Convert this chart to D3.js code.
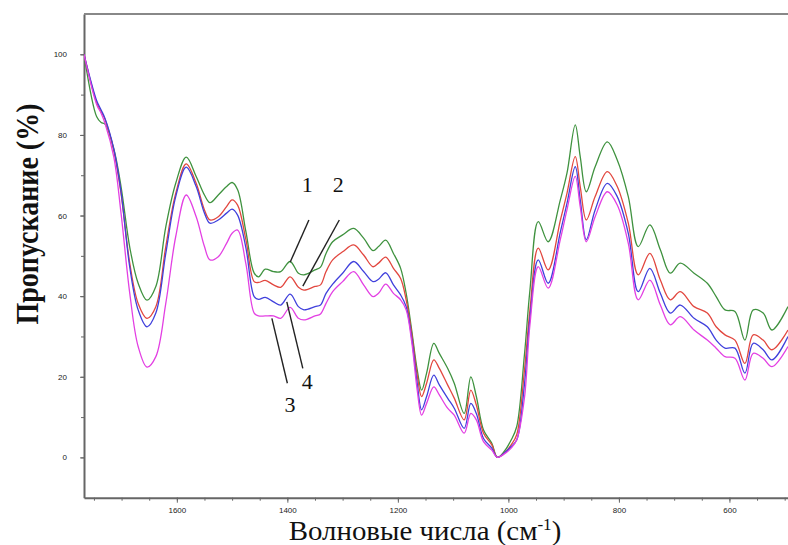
<!DOCTYPE html>
<html>
<head>
<meta charset="utf-8">
<script src="https://cdn.jsdelivr.net/npm/d3@7"></script>
<style>
  body { margin: 0; background: #fff; }
  svg { display: block; }
  .axis path, .axis line { stroke: #666; }
  .axis path { stroke-width: 2; }
  .axis text { font-family: "Liberation Sans Narrow", "Liberation Sans", sans-serif; font-size: 8px; fill: #222; }
  .line { fill: none; stroke-width: 1.3; stroke-linejoin: round; }
  .title { font-family: "Liberation Serif", "Times New Roman", serif; fill: #111; }
</style>
</head>
<body>
<svg id="chart" width="788" height="545"></svg>
<script>
// wavenumbers, cm-1
let wavenumbers = [1768, 1745, 1737, 1730, 1714, 1701, 1685, 1670, 1654, 1638, 1620, 1602, 1583, 1565, 1550, 1540,
  1525, 1510, 1500, 1490, 1475, 1460, 1452, 1440, 1425, 1412, 1395, 1380, 1370, 1350, 1340, 1330, 1318, 1300,
  1280, 1262, 1245, 1235, 1222, 1208, 1195, 1185, 1175, 1165, 1157, 1148, 1135, 1125, 1110, 1098, 1080, 1068,
  1058, 1045, 1030, 1020, 1008, 995, 985, 971, 961, 946, 928, 906, 894, 879, 870, 859, 843, 821, 803, 783,
  765, 744, 725, 707, 689, 664, 640, 624, 608, 590, 572, 557, 539, 523, 494]

// transmittance, %
let series1 = [100, 84.5, 83.1, 82.7, 76.5, 67.2, 52, 43.2, 39.0, 42.4, 57.2, 68, 74.5, 69.7, 65.1, 63.2,
  65.1, 67.2, 68.2, 66.4, 56, 45.7, 44.8, 46.7, 46.1, 46.1, 48.6, 45.7, 45.3, 46.5, 47.2, 50.6, 53.5, 55.2,
  56.8, 54.4, 51.3, 52.3, 53.9, 50.6, 46.9, 40.7, 31.6, 21.7, 16.7, 20.9, 28.3, 25.8, 22.1, 18.4, 10.9, 20.0,
  15.1, 6.8, 3.5, 0, 1.4, 4.3, 7.6, 25.4, 41.5, 58.5, 53.5, 63.9, 70.5, 82.5, 74.6, 65.9, 72.1, 78.3, 73.8, 64.7,
  52.3, 57.7, 51.5, 45.7, 48.2, 45.7, 43.2, 39.9, 36.6, 36.2, 29.1, 36.6, 35.8, 31.6, 37.4]
let series2 = [100, 88, 85.8, 83.9, 76, 65.5, 48, 38.2, 34.5, 37.4, 52.3, 65.5, 72.8, 68, 61.4, 58.9,
  59.7, 62.2, 63.9, 62.6, 54, 43.6, 43.4, 43.9, 42.8, 42.2, 44.8, 42.2, 41.5, 42.4, 42.8, 46.1, 49, 51,
  52.7, 50.2, 47.3, 48.2, 49.7, 46.9, 44.4, 39.1, 30.8, 20.4, 15.1, 18.4, 24.2, 22.1, 18, 14.7, 9.3, 16.7,
  13, 6.0, 3.1, 0, 1.0, 3.1, 5.6, 21.5, 36.6, 51.9, 46.5, 58.8, 65.5, 74.6, 67.2, 58.9, 64.7, 70.9, 67.2, 58.1,
  45.3, 50.6, 44, 39.1, 41.1, 37.4, 35.8, 32.4, 30.4, 29.1, 23.3, 30.4, 29.1, 26.7, 31.6]
let series3 = [100, 87.5, 85.4, 82.9, 74.5, 60.6, 40.5, 27.5, 22.4, 25, 38.2, 54.8, 65.1, 59.7, 52.3, 49.0,
  49.8, 53.1, 55.6, 56.4, 48, 35.8, 35.1, 35.1, 35.1, 34.5, 37.2, 34.5, 34.1, 35.1, 35.6, 38.2, 41.1, 43.6,
  46.1, 42.8, 39.9, 40.7, 43, 40.7, 39.1, 36.6, 28.7, 16.7, 10.5, 13.4, 17.5, 15.5, 12.2, 10.5, 6.0, 10.9,
  9.3, 3.9, 1.8, 0, 0.8, 2.3, 4.3, 14.7, 32.9, 47.3, 42, 54.1, 61.4, 69.7, 62.2, 53.5, 59.7, 65.9, 62.6, 53.1,
  39.1, 44, 37.8, 32.9, 34.9, 31.6, 29.1, 27.1, 25, 24.6, 19.2, 25.8, 24.6, 22.5, 27.5]
let series4 = [100, 88.5, 86.2, 84.1, 76.5, 65.9, 47, 36.6, 32.4, 35.8, 50.6, 64.7, 72.0, 67.2, 60.6, 58.1,
  58.9, 60.6, 61.6, 60.1, 52, 39.9, 39.2, 39.7, 38.6, 37.8, 40.5, 37.4, 36.6, 37.4, 37.8, 40.7, 43, 45.7,
  48.6, 46.1, 43.6, 44.2, 45.8, 42.8, 40.3, 37.4, 29.6, 18.4, 11.8, 15.1, 20.4, 18, 14.7, 12.2, 7.2, 13.4,
  10.9, 4.7, 2.3, 0, 1.0, 2.7, 4.3, 18, 34.6, 49, 43.2, 55.9, 63, 72.1, 63.9, 54, 61.4, 68, 64.7, 55.6,
  41.1, 46.9, 40.7, 35.8, 37.8, 34.5, 32.4, 29.1, 27.1, 27.1, 20.9, 28.3, 26.7, 24.2, 30]

let seriesNames = ["1", "2", "3", "4"]
let seriesColors = ["#3f923f", "#e2473f", "#e340e3", "#4040dc"]

// labels 1-4 with leader lines, in data units
let callouts = [
  {name: "1", lx: 1364, ly: 65.9, x1: 1361, y1: 58.9, x2: 1395, y2: 48.4},
  {name: "2", lx: 1308, ly: 65.9, x1: 1306, y1: 58.9, x2: 1372, y2: 42.5},
  {name: "3", lx: 1395, ly: 11.3, x1: 1400, y1: 18.4, x2: 1428, y2: 34.5},
  {name: "4", lx: 1364, ly: 17.0, x1: 1372, y1: 22.1, x2: 1401, y2: 38.6}
]

let xMajor = [1600, 1400, 1200, 1000, 800, 600]
let xMinor = d3.range(500, 1800, 50)
let yMajor = [0, 20, 40, 60, 80, 100]
let yMinor = d3.range(0, 101, 10)

//======================= SET UP SVG =========================
let svg = d3.select("#chart"),
    plotLeft = 84, plotRight = 788, plotTop = 14, plotBottom = 497.7

let x = d3.scaleLinear().domain([1768, 494]).range([plotLeft, plotRight])
let y = d3.scaleLinear().domain([-10, 110]).range([plotBottom, plotTop])

let inputData = [series1, series2, series3, series4].map(function(vals, i) {
  return {id: seriesNames[i], color: seriesColors[i],
    values: wavenumbers.map(function(w, j) { return {wn: w, t: vals[j]} })}
})

svg.append("defs").append("clipPath").attr("id", "plotclip")
  .append("rect").attr("x", plotLeft).attr("y", plotTop)
  .attr("width", plotRight - plotLeft).attr("height", plotBottom - plotTop)

//======================= AXES =========================
svg.append("g").attr("class", "axis")
  .attr("transform", "translate(0," + plotBottom + ")")
  .call(d3.axisBottom(x).tickValues(xMinor.filter(function(v) { return v > 494 && v < 1768 })).tickSize(3).tickFormat(""))
  .call(function(g) { g.select(".domain").remove() })

svg.append("g").attr("class", "axis")
  .attr("transform", "translate(0," + plotBottom + ")")
  .call(d3.axisBottom(x).tickValues(xMajor).tickSize(5).tickPadding(5).tickSizeOuter(0).tickFormat(d3.format("d")))

svg.append("g").attr("class", "axis")
  .attr("transform", "translate(" + plotLeft + ",0)")
  .call(d3.axisLeft(y).tickValues(yMinor).tickSize(3).tickFormat(""))
  .call(function(g) { g.select(".domain").remove() })

svg.append("g").attr("class", "axis")
  .attr("transform", "translate(" + plotLeft + ",0)")
  .call(d3.axisLeft(y).tickValues(yMajor).tickSize(4).tickPadding(13).tickSizeOuter(0).tickFormat(d3.format("d")))

// top frame line
svg.append("line")
  .attr("x1", plotLeft).attr("x2", plotRight).attr("y1", plotTop).attr("y2", plotTop)
  .attr("stroke", "#888").attr("stroke-width", 2)

//======================= LINES =========================
let line = d3.line()
  .curve(d3.curveCatmullRom.alpha(0.5))
  .x(function(d) { return x(d.wn) })
  .y(function(d) { return y(d.t) })

svg.append("g").attr("clip-path", "url(#plotclip)")
  .selectAll(".line")
  .data([inputData[0], inputData[1], inputData[3], inputData[2]])
  .enter().append("path")
    .attr("class", "line")
    .attr("d", function(d) { return line(d.values) })
    .style("stroke", function(d) { return d.color })

//======================= CALLOUTS =========================
let callout = svg.selectAll(".callout").data(callouts).enter().append("g").attr("class", "callout")

callout.append("line")
  .attr("x1", function(d) { return x(d.x1) }).attr("y1", function(d) { return y(d.y1) })
  .attr("x2", function(d) { return x(d.x2) }).attr("y2", function(d) { return y(d.y2) })
  .attr("stroke", "#222").attr("stroke-width", 1.4)

callout.append("text")
  .attr("class", "title")
  .attr("x", function(d) { return x(d.lx) })
  .attr("y", function(d) { return y(d.ly) })
  .attr("text-anchor", "middle")
  .style("font-size", "22px")
  .text(function(d) { return d.name })

//======================= TITLES =========================
svg.append("text")
  .attr("class", "title")
  .attr("transform", "translate(38,214) rotate(-90) scale(1,1.15)")
  .attr("text-anchor", "middle")
  .style("font-size", "28px")
  .style("font-weight", "bold")
  .text("Пропускание (%)")

let xt = svg.append("text")
  .attr("class", "title")
  .attr("transform", "translate(425,540) scale(1.07,1)")
  .attr("text-anchor", "middle")
  .style("font-size", "27px")
xt.append("tspan").text("Волновые числа (см")
xt.append("tspan").attr("dy", -10).style("font-size", "16px").text("-1")
xt.append("tspan").attr("dy", 10).text(")")
</script>
</body>
</html>
